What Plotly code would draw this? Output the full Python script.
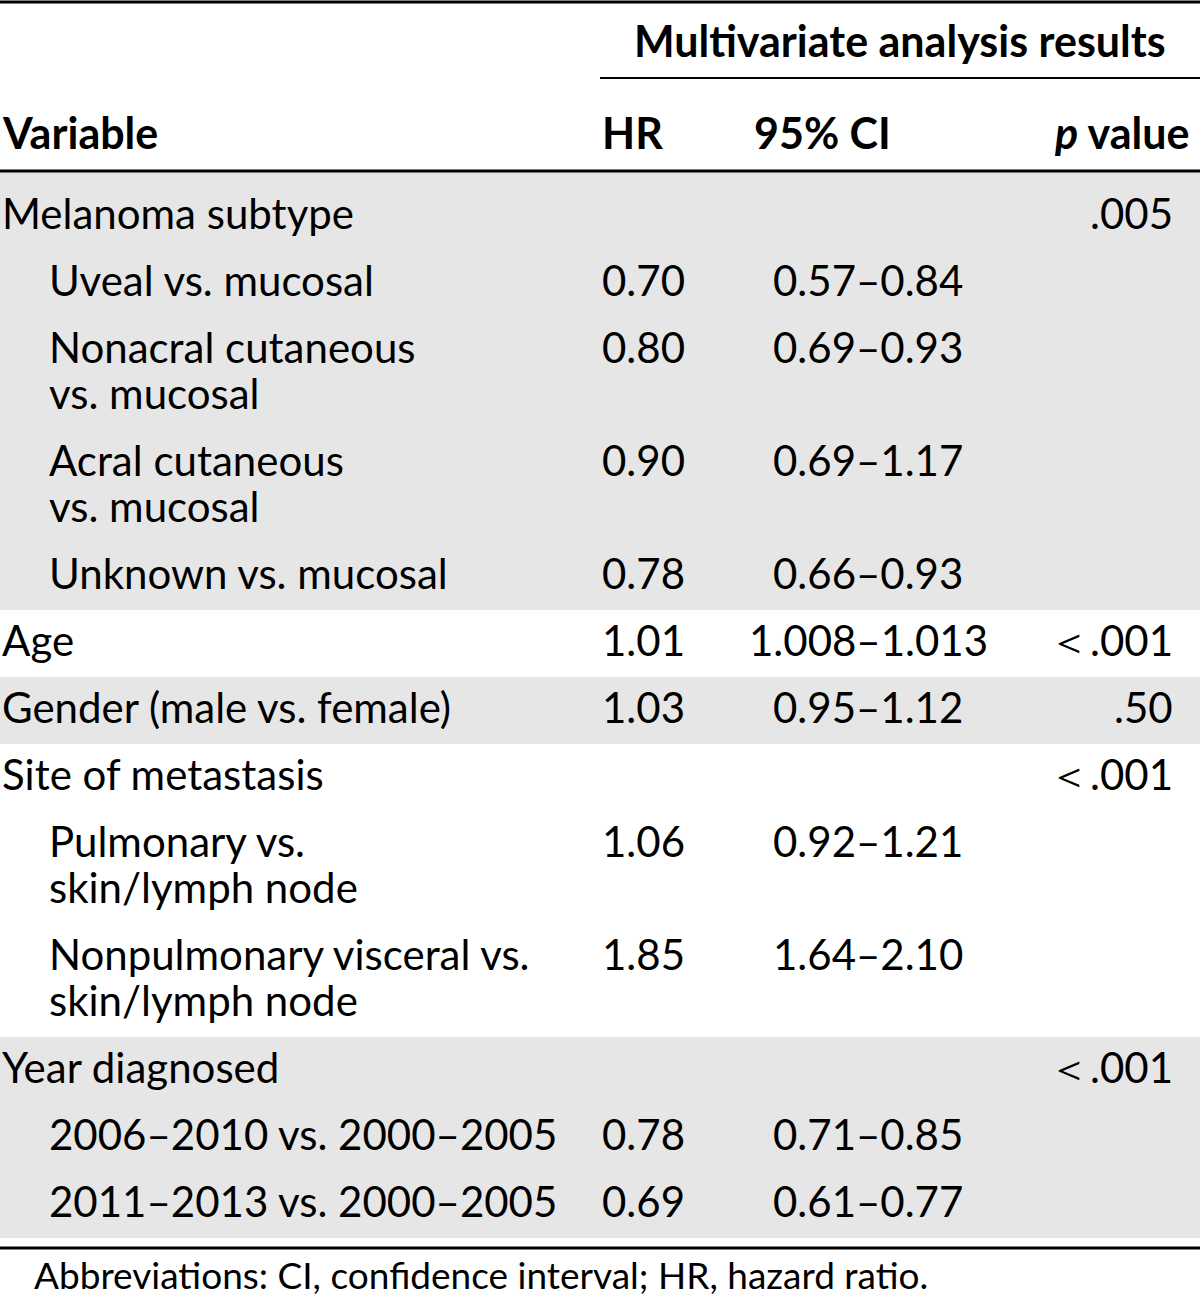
import plotly.graph_objects as go

# ---- data ----
variables = [
    "Melanoma subtype",
    "Uveal vs. mucosal",
    "Nonacral cutaneous\nvs. mucosal",
    "Acral cutaneous\nvs. mucosal",
    "Unknown vs. mucosal",
    "Age",
    "Gender (male vs. female)",
    "Site of metastasis",
    "Pulmonary vs.\nskin/lymph node",
    "Nonpulmonary visceral vs.\nskin/lymph node",
    "Year diagnosed",
    "2006\u20132010 vs. 2000\u20132005",
    "2011\u20132013 vs. 2000\u20132005",
]
levels = [0, 1, 1, 1, 1, 0, 0, 0, 1, 1, 0, 1, 1]
hr = ["", "0.70", "0.80", "0.90", "0.78", "1.01", "1.03", "", "1.06", "1.85", "", "0.78", "0.69"]
ci = ["", "0.57\u20130.84", "0.69\u20130.93", "0.69\u20131.17", "0.66\u20130.93", "1.008\u20131.013",
      "0.95\u20131.12", "", "0.92\u20131.21", "1.64\u20132.10", "", "0.71\u20130.85", "0.61\u20130.77"]
pval = [".005", "", "", "", "", "\uff1c.001", ".50", "\uff1c.001", "", "", "\uff1c.001", "", ""]
col_headers = ["Variable", "HR", "95% CI", "<i>p</i> value"]
span_header = "Multivariate analysis results"
footnote = "Abbreviations: CI, confidence interval; HR, hazard ratio."

FONT = "Lato, Open Sans, sans-serif"
FS = 42
W, H = 1200, 1298
GRAY = "#e6e6e6"

fig = go.Figure()
fig.add_trace(go.Scatter(x=[0, W], y=[0, H], mode="markers", marker=dict(opacity=0), hoverinfo="skip", showlegend=False))

shapes = []
ann = []

def text(x, y, s, anchor="left", bold=False, size=FS):
    if bold:
        s = "<b>" + s + "</b>"
    ann.append(dict(x=x, y=y, text=s, xanchor=anchor, yanchor="middle", showarrow=False,
                    font=dict(family=FONT, size=size, color="black"), xref="x", yref="y"))

# header
text(900, 40, span_header, "center", True, 43)
text(0, 132, col_headers[0], "left", True, 43)
text(600, 132, col_headers[1], "left", True, 43)
text(752, 132, col_headers[2], "left", True, 43)
text(1192, 132, col_headers[3], "right", True, 43)

# rows
STEP, LINE = 67, 46
y = 213
row_y = []
for v in variables:
    row_y.append(y)
    y += STEP + LINE * (v.count("\n"))

# group bands
group_starts = [i for i, l in enumerate(levels) if l == 0] + [len(levels)]
for g in range(len(group_starts) - 1):
    a, b = group_starts[g], group_starts[g + 1] - 1
    top = 172 if a == 0 else row_y[a] - 30
    last_lines = variables[b].count("\n")
    bottom = row_y[b] + LINE * last_lines + 37
    if g % 2 == 0:
        shapes.append(dict(type="rect", x0=0, x1=W, y0=top, y1=bottom, fillcolor=GRAY,
                           line=dict(width=0), layer="below", xref="x", yref="y"))

for i, v in enumerate(variables):
    x0 = 0 if levels[i] == 0 else 47
    for k, line in enumerate(v.split("\n")):
        text(x0, row_y[i] + k * LINE, line)
    if hr[i]:
        text(600, row_y[i], hr[i])
    if ci[i]:
        text(868, row_y[i], ci[i], "center")
    if pval[i]:
        text(1175, row_y[i], pval[i], "right")

# rules
shapes.append(dict(type="line", x0=0, x1=W, y0=2, y1=2, line=dict(color="black", width=3), xref="x", yref="y"))
shapes.append(dict(type="line", x0=600, x1=W, y0=78, y1=78, line=dict(color="black", width=2), xref="x", yref="y"))
shapes.append(dict(type="line", x0=0, x1=W, y0=171, y1=171, line=dict(color="black", width=3), xref="x", yref="y"))
shapes.append(dict(type="line", x0=0, x1=W, y0=1248, y1=1248, line=dict(color="black", width=3), xref="x", yref="y"))

text(32, 1274, footnote, "left", False, 37)

fig.update_layout(
    width=W, height=H, margin=dict(l=0, r=0, t=0, b=0),
    paper_bgcolor="white", plot_bgcolor="white",
    xaxis=dict(range=[0, W], visible=False, fixedrange=True),
    yaxis=dict(range=[H, 0], visible=False, fixedrange=True),
    shapes=shapes, annotations=ann, showlegend=False,
)
fig.write_html("out.html", config={"displayModeBar": False},
               post_script="document.body.style.margin='0';document.body.style.padding='0';document.body.style.overflow='hidden';")
